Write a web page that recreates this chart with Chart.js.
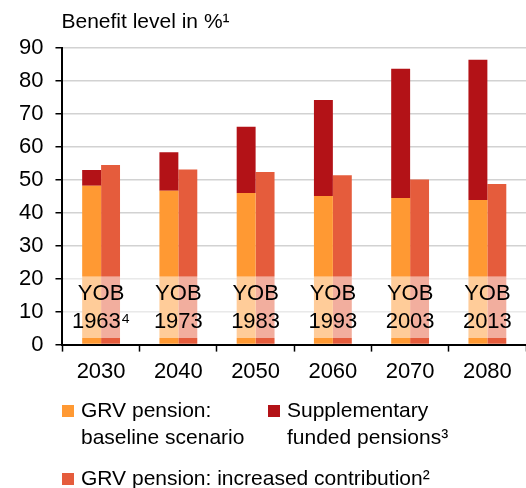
<!DOCTYPE html>
<html lang="en">
  <head>
    <meta charset="UTF-8" />
    <title>Benefit level</title>
    <script src="https://cdn.jsdelivr.net/npm/chart.js@4/dist/chart.umd.min.js"></script>
    <style>
      body { margin: 0; background: #fff; }
      #wrap { width: 526px; height: 488px; }
    </style>
  </head>
  <body>
    <div id="wrap"><canvas id="myChart" width="526" height="488"></canvas></div>
    <script>
      // data
      const years = ["2030", "2040", "2050", "2060", "2070", "2080"];
      const birthYears = ["1963\u2074", "1973", "1983", "1993", "2003", "2013"];
      const baseline = [48.2, 46.7, 46.0, 45.1, 44.5, 43.9];
      const supplementary = [4.8, 11.7, 20.1, 29.1, 39.2, 42.5];
      const increased = [54.5, 53.1, 52.4, 51.4, 50.1, 48.7];
      const yTicks = [0, 10, 20, 30, 40, 50, 60, 70, 80, 90];

      const FONT = "'Liberation Sans', Arial, sans-serif";

      // pale band with the year-of-birth labels, drawn over the bars
      const yobBand = {
        id: "yobBand",
        afterDatasetsDraw(chart) {
          const { ctx, chartArea, scales } = chart;
          const top = scales.y.getPixelForValue(20.7);
          const bottom = scales.y.getPixelForValue(2);
          ctx.save();
          ctx.fillStyle = "rgba(255,255,255,0.5)";
          ctx.fillRect(chartArea.left + 1, top, chartArea.right - chartArea.left, bottom - top);
          ctx.fillStyle = "#000";
          ctx.font = "22px " + FONT;
          ctx.textAlign = "center";
          ctx.textBaseline = "middle";
          birthYears.forEach((b, i) => {
            const x = scales.x.getPixelForValue(i);
            ctx.fillText("YOB", x, top + 18);
            ctx.fillText(b, x, top + 46);
          });
          ctx.restore();
        },
      };

      // axis title and legend
      const decorations = {
        id: "decorations",
        afterDraw(chart) {
          const { ctx, chartArea } = chart;
          const ds = chart.data.datasets;
          ctx.save();
          ctx.fillStyle = "#000";
          ctx.textBaseline = "middle";
          ctx.textAlign = "left";
          ctx.font = "21px " + FONT;
          ctx.fillText("Benefit level in %\u00b9", chartArea.left - 1, 22);

          const items = [
            { d: ds[0], x: 62, y: 411 },
            { d: ds[1], x: 268, y: 411 },
            { d: ds[2], x: 62, y: 479 },
          ];
          items.forEach((it) => {
            ctx.fillStyle = it.d.backgroundColor;
            ctx.fillRect(it.x, it.y - 6, 12, 12);
            ctx.fillStyle = "#000";
            const lines = [].concat(it.d.label);
            lines.forEach((t, j) => ctx.fillText(t, it.x + 19, it.y + j * 27));
          });
          ctx.restore();
        },
      };

      const config = {
        type: "bar",
        data: {
          labels: years,
          datasets: [
            {
              label: ["GRV pension:", "baseline scenario"],
              data: baseline,
              backgroundColor: "rgb(255, 153, 51)",
              stack: "a",
            },
            {
              label: ["Supplementary", "funded pensions\u00b3"],
              data: supplementary,
              backgroundColor: "rgb(179, 18, 23)",
              stack: "a",
            },
            {
              label: "GRV pension: increased contribution\u00b2",
              data: increased,
              backgroundColor: "rgb(229, 92, 60)",
              stack: "b",
            },
          ],
        },
        options: {
          responsive: false,
          animation: false,
          devicePixelRatio: 1,
          categoryPercentage: 0.49,
          barPercentage: 1.0,
          layout: { padding: { top: 48, left: 7, right: 0, bottom: 96 } },
          plugins: {
            legend: { display: false },
            tooltip: { enabled: false },
          },
          scales: {
            x: {
              stacked: true,
              grid: {
                drawOnChartArea: false,
                tickLength: 7,
                tickColor: "#000",
                tickWidth: 1.5,
              },
              border: { color: "#000", width: 2 },
              ticks: { color: "#000", font: { family: FONT, size: 22 }, padding: 7 },
            },
            y: {
              stacked: true,
              min: 0,
              max: 90,
              afterBuildTicks(axis) {
                axis.ticks = yTicks.map((v) => ({ value: v }));
              },
              grid: {
                color: "#d2d2d2",
                lineWidth: 1.5,
                tickLength: 7,
                tickColor: "#000",
                tickWidth: 1.5,
              },
              border: { color: "#000", width: 2 },
              ticks: { color: "#000", font: { family: FONT, size: 22 }, padding: 12 },
            },
          },
        },
        plugins: [yobBand, decorations],
      };

      const myChart = new Chart(document.getElementById("myChart"), config);
    </script>
  </body>
</html>
